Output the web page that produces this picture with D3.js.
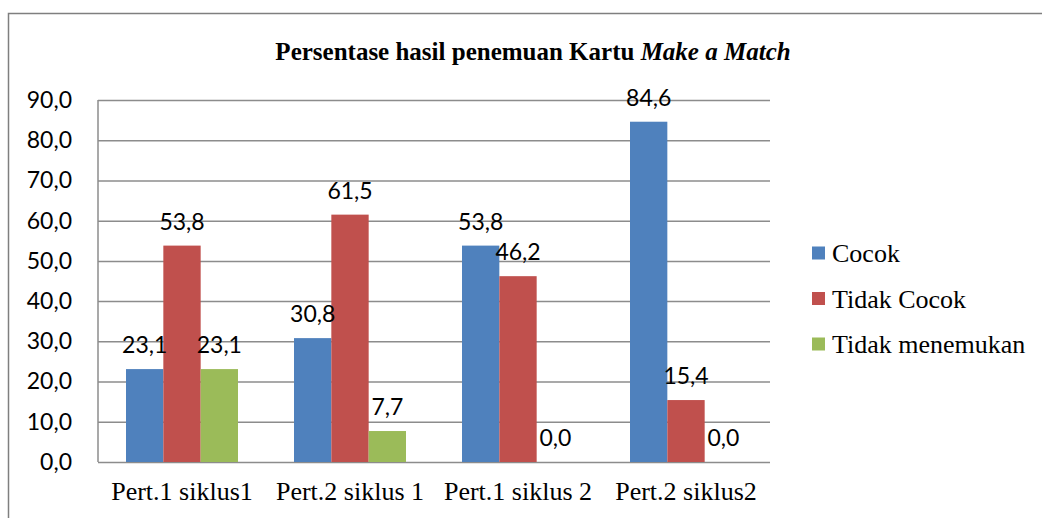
<!DOCTYPE html>
<html><head><meta charset="utf-8"><script src="https://cdn.jsdelivr.net/npm/d3@7"></script>
<style>
  @font-face { font-family: 'ChartSerif'; font-weight: normal; font-style: normal;
    src: local('Liberation Serif'), local('LiberationSerif'), local('Times New Roman'), local('Tinos'); }
  @font-face { font-family: 'ChartSerif'; font-weight: bold; font-style: normal;
    src: local('Liberation Serif Bold'), local('LiberationSerif-Bold'), local('Times New Roman Bold'); }
  @font-face { font-family: 'ChartSerif'; font-weight: bold; font-style: italic;
    src: local('Liberation Serif Bold Italic'), local('LiberationSerif-BoldItalic'), local('Times New Roman Bold Italic'); }
</style>
</head>
<body style="margin:0">
<script>
// ---- data ----
var categories = ['Pert.1 siklus1', 'Pert.2 siklus 1', 'Pert.1 siklus 2', 'Pert.2 siklus2'];
var series = ['Cocok', 'Tidak Cocok', 'Tidak menemukan'];
var cocok = [23.1, 30.8, 53.8, 84.6];
var tidakCocok = [53.8, 61.5, 46.2, 15.4];
var tidakMenemukan = [23.1, 7.7, 0.0, 0.0];
var yTicks = [0, 10, 20, 30, 40, 50, 60, 70, 80, 90];
var colors = ['#4f81bd', '#c0504d', '#9bbb59'];

var values = [cocok, tidakCocok, tidakMenemukan];

// ---- layout ----
var W = 1042, H = 518;
var plot = {left: 98, right: 770, top: 100, bottom: 462};
var SERIF = "'Liberation Serif', 'ChartSerif', 'Times New Roman', Tinos, FreeSerif";
var SANS = "'Lato'";

var locale = d3.formatLocale({decimal: ',', thousands: '.', grouping: [3], currency: ['', '']});
var fmt = locale.format('.1f');

var svg = d3.select('body').append('svg').attr('width', W).attr('height', H)
    .style('display', 'block');

var x0 = d3.scaleBand().domain(categories).range([plot.left, plot.right])
           .paddingInner(1/3).paddingOuter(1/6);
var x1 = d3.scaleBand().domain(series).range([0, x0.bandwidth()]);
var y = d3.scaleLinear().domain([0, 90]).range([plot.bottom, plot.top]);

// chart border (runs off the page on right/bottom)
svg.append('rect')
   .attr('x', 8.5).attr('y', 13.5)
   .attr('width', W + 20).attr('height', H + 20)
   .attr('fill', 'none').attr('stroke', '#7f7f7f').attr('stroke-width', 1.5);

// title
var title = svg.append('text')
   .attr('x', 533).attr('y', 60)
   .attr('text-anchor', 'middle')
   .style('font-family', SERIF).style('font-size', '25px').style('font-weight', 'bold');
title.append('tspan').text('Persentase hasil penemuan Kartu ');
title.append('tspan').style('font-style', 'italic').text('Make a Match');

// category labels
svg.selectAll('.cat').data(categories).enter()
   .append('text').attr('class', 'cat')
   .attr('x', d => x0(d) + x0.bandwidth() / 2)
   .attr('y', plot.bottom + 38)
   .attr('text-anchor', 'middle')
   .style('font-family', SERIF).style('font-size', '26px')
   .text(d => d);

// legend
svg.selectAll('.legbox').data(series).enter()
   .append('rect').attr('class', 'legbox')
   .attr('x', 812).attr('y', (d, i) => 246.5 + i * 45.5)
   .attr('width', 13).attr('height', 13)
   .attr('fill', (d, i) => colors[i]);
svg.selectAll('.legtxt').data(series).enter()
   .append('text').attr('class', 'legtxt')
   .attr('x', 832).attr('y', (d, i) => 262 + i * 45.5)
   .style('font-family', SERIF).style('font-size', '26px')
   .text(d => d);

// gridlines + y tick labels
var gy = svg.append('g').attr('transform', `translate(${plot.left},0)`)
    .call(d3.axisLeft(y).tickValues(yTicks).tickFormat(fmt)
            .tickSize(-(plot.right - plot.left)).tickPadding(26));
gy.select('.domain').remove();
gy.selectAll('line').attr('stroke', '#8c8c8c').attr('stroke-width', 1.5);
gy.selectAll('text').style('font-family', SANS).style('font-size', '23px').attr('fill', '#000');

// left axis line
svg.append('line')
   .attr('x1', plot.left).attr('x2', plot.left)
   .attr('y1', y(90)).attr('y2', y(0))
   .attr('stroke', '#8c8c8c').attr('stroke-width', 1.5);

// bars
var rows = categories.map((c, i) => ({cat: c, vals: series.map((s, j) => ({s: s, j: j, v: values[j][i]}))}));

var groups = svg.selectAll('.grp').data(rows).enter()
    .append('g').attr('class', 'grp')
    .attr('transform', d => `translate(${x0(d.cat)},0)`);

groups.selectAll('rect').data(d => d.vals).enter()
    .append('rect')
    .attr('x', d => x1(d.s))
    .attr('width', x1.bandwidth())
    .attr('y', d => y(d.v))
    .attr('height', d => y(0) - y(d.v))
    .attr('fill', d => colors[d.j]);

// value labels
groups.selectAll('.lbl').data(d => d.vals).enter()
    .append('text').attr('class', 'lbl')
    .attr('x', d => x1(d.s) + x1.bandwidth() / 2)
    .attr('y', d => y(d.v) - 16)
    .attr('text-anchor', 'middle')
    .style('font-family', SANS).style('font-size', '23px')
    .text(d => fmt(d.v));
</script>
</body></html>
